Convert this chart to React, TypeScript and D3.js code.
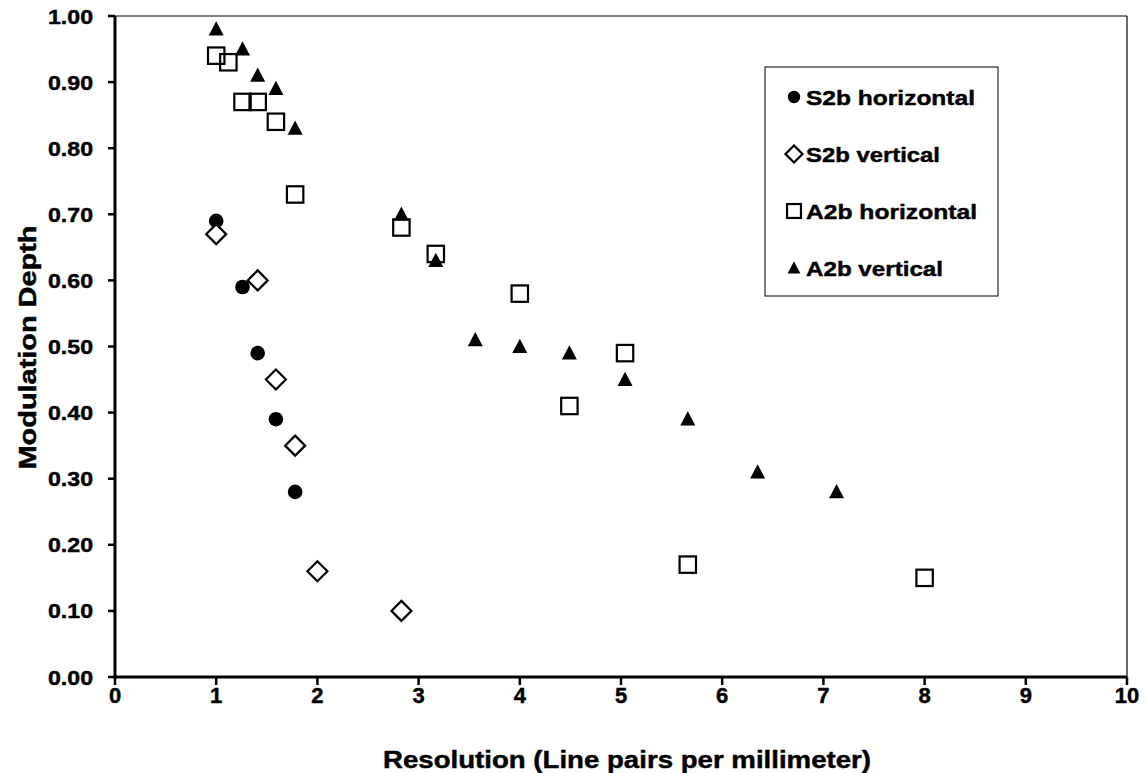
import React from "react";
import * as d3 from "d3";

const xTicks = [0, 1, 2, 3, 4, 5, 6, 7, 8, 9, 10];
const yTicks = [0, 0.1, 0.2, 0.3, 0.4, 0.5, 0.6, 0.7, 0.8, 0.9, 1.0];

const s2bHorizontal: [number, number][] = [
  [1.0, 0.69], [1.26, 0.59], [1.41, 0.49], [1.59, 0.39], [1.78, 0.28],
];
const s2bVertical: [number, number][] = [
  [1.0, 0.67], [1.41, 0.6], [1.59, 0.45], [1.78, 0.35], [2.0, 0.16], [2.83, 0.1],
];
const a2bHorizontal: [number, number][] = [
  [1.0, 0.94], [1.12, 0.93], [1.26, 0.87], [1.41, 0.87], [1.59, 0.84], [1.78, 0.73],
  [2.83, 0.68], [3.17, 0.64], [4.0, 0.58], [4.49, 0.41], [5.04, 0.49], [5.66, 0.17], [8.0, 0.15],
];
const a2bVertical: [number, number][] = [
  [1.0, 0.98], [1.26, 0.95], [1.41, 0.91], [1.59, 0.89], [1.78, 0.83], [2.83, 0.7],
  [3.17, 0.63], [3.56, 0.51], [4.0, 0.5], [4.49, 0.49], [5.04, 0.45], [5.66, 0.39],
  [6.35, 0.31], [7.13, 0.28],
];

const legendLabels = ["S2b horizontal", "S2b vertical", "A2b horizontal", "A2b vertical"];

const W = 1147, H = 773;
const L = 115, T = 16, R = 1127, B = 677;
const FONT = "'Liberation Sans', Arial, Helvetica, sans-serif";
const TS = { stroke: "#000", strokeWidth: 0.45 };

type Shape = "circle" | "diamond" | "square" | "triangle";

function Marker({ shape, x, y, scale = 1 }: { shape: Shape; x: number; y: number; scale?: number }) {
  if (shape === "circle") return <circle cx={x} cy={y} r={7.3 * scale} fill="#000" />;
  if (shape === "diamond") {
    const s = 10 * scale;
    return <path d={`M${x},${y - s}L${x + s},${y}L${x},${y + s}L${x - s},${y}Z`} fill="#fff" stroke="#000" strokeWidth={2.2} />;
  }
  if (shape === "square") {
    const s = 8.2 * scale;
    return <rect x={x - s} y={y - s} width={2 * s} height={2 * s} fill="none" stroke="#000" strokeWidth={2.2} />;
  }
  const s = 7.5 * scale;
  return <path d={`M${x},${y - s * 1.05}L${x + s},${y + s * 0.85}L${x - s},${y + s * 0.85}Z`} fill="#000" />;
}

export default function App() {
  const x = d3.scaleLinear().domain([0, 10]).range([L, R]);
  const y = d3.scaleLinear().domain([0, 1]).range([B, T]);
  const series: { data: [number, number][]; shape: Shape }[] = [
    { data: a2bHorizontal, shape: "square" },
    { data: s2bHorizontal, shape: "circle" },
    { data: s2bVertical, shape: "diamond" },
    { data: a2bVertical, shape: "triangle" },
  ];
  const legendShapes: Shape[] = ["circle", "diamond", "square", "triangle"];
  const legendWidths = [169, 134, 171, 137];
  return (
    <svg width={W} height={H} style={{ position: "absolute", left: 0, top: 0, background: "#fff" }} fontFamily={FONT}>
      <rect x={0} y={0} width={W} height={H} fill="#fff" />
      {/* frame */}
      <line x1={L} y1={T} x2={R} y2={T} stroke="#000" strokeWidth={1} />
      <line x1={R} y1={T} x2={R} y2={B} stroke="#000" strokeWidth={1.2} />
      {/* y ticks */}
      {yTicks.map((t) => (
        <g key={"y" + t}>
          <line x1={L - 7} x2={L} y1={y(t)} y2={y(t)} stroke="#000" strokeWidth={2.5} />
          <text x={L - 22} y={y(t)} dy="0.36em" textAnchor="end" fontSize={21} fontWeight="bold"
            textLength={45} lengthAdjust="spacingAndGlyphs" {...TS}>
            {d3.format(".2f")(t)}
          </text>
        </g>
      ))}
      {/* x ticks */}
      {xTicks.map((t) => (
        <g key={"x" + t}>
          <line x1={x(t)} x2={x(t)} y1={B} y2={B + 8} stroke="#000" strokeWidth={2.5} />
          <text x={x(t)} y={B + 26} textAnchor="middle" fontSize={22} fontWeight="bold" {...TS}>
            {t}
          </text>
        </g>
      ))}
      <line x1={L} y1={T} x2={L} y2={B + 1.5} stroke="#000" strokeWidth={3} />
      <line x1={L - 1.5} y1={B} x2={R} y2={B} stroke="#000" strokeWidth={3} />
      {/* data */}
      {series.map((s, i) => (
        <g key={i}>
          {s.data.map(([dx, dy], j) => (
            <Marker key={j} shape={s.shape} x={x(dx)} y={y(dy)} />
          ))}
        </g>
      ))}
      {/* legend */}
      <rect x={765} y={67} width={233} height={229} fill="#fff" stroke="#000" strokeWidth={1} />
      {legendLabels.map((lab, i) => {
        const cy = 97 + i * 57;
        return (
          <g key={lab}>
            <Marker shape={legendShapes[i]} x={794} y={cy} scale={0.85} />
            <text x={806} y={cy} dy="0.36em" fontSize={21} fontWeight="bold"
              textLength={legendWidths[i]} lengthAdjust="spacingAndGlyphs" {...TS}>{lab}</text>
          </g>
        );
      })}
      {/* axis titles */}
      <text x={(L + R) / 2 + 6} y={768} textAnchor="middle" fontSize={24} fontWeight="bold"
        textLength={488} lengthAdjust="spacingAndGlyphs" {...TS}>
        Resolution (Line pairs per millimeter)
      </text>
      <text transform={`translate(36,${(T + B) / 2 + 1}) rotate(-90)`} textAnchor="middle" fontSize={23} fontWeight="bold"
        textLength={244} lengthAdjust="spacingAndGlyphs" {...TS}>
        Modulation Depth
      </text>
    </svg>
  );
}
